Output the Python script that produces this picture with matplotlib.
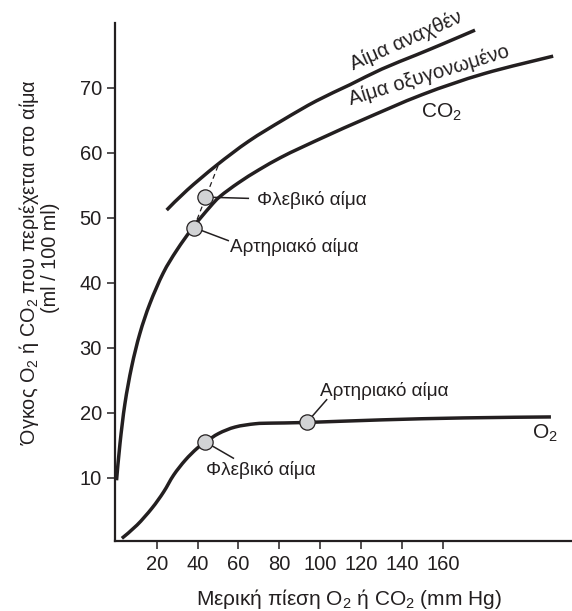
import matplotlib
matplotlib.use("Agg")
import matplotlib.pyplot as plt
from matplotlib.path import Path
from matplotlib.patches import PathPatch

plt.rcParams['font.family'] = ['Liberation Sans', 'DejaVu Sans']
plt.rcParams['mathtext.fontset'] = 'custom'
plt.rcParams['mathtext.rm'] = 'Liberation Sans'
plt.rcParams['mathtext.it'] = 'Liberation Sans'
plt.rcParams['mathtext.bf'] = 'Liberation Sans'

# ---- data ----
co2_oxy_x = [0.4, 2.1, 4.5, 7.8, 11.8, 16.7, 23.2, 29.8, 37.9, 46.1, 51, 60, 70, 80.7, 90.5, 105, 120, 150, 180, 213.8]
co2_oxy_y = [9.6, 15.3, 21.4, 27.1, 32.2, 36.8, 41.5, 45.0, 48.6, 51.7, 53.3, 55.4, 57.4, 59.3, 60.8, 62.9, 65.0, 69.0, 72.2, 74.9]

co2_red_x = [24.9, 35, 49.3, 65, 81.9, 98, 114.5, 130, 147, 160, 175.6]
co2_red_y = [51.2, 54.3, 58.1, 61.8, 65.1, 68.0, 70.5, 72.9, 75.1, 76.8, 78.9]

o2_x = [3.0, 10.4, 17.7, 23.4, 28.3, 34.0, 39.7, 44.0, 50.3, 58.4, 68.2, 76.4, 93.4, 130, 170, 212.7]
o2_y = [0.66, 2.7, 5.3, 7.8, 10.4, 12.7, 14.5, 15.5, 16.8, 17.8, 18.3, 18.4, 18.5, 18.9, 19.2, 19.35]

co2_arterial = (38.2, 48.5)
co2_venous = (43.5, 53.2)
co2_dash_end = (50.1, 58.1)
o2_venous = (43.8, 15.5)
o2_arterial = (93.4, 18.5)

x_ticks = [20, 40, 60, 80, 100, 120, 140, 160]
y_ticks = [10, 20, 30, 40, 50, 60, 70]

ylabel_line1 = "Όγκος O$_2$ ή CO$_2$ που περιέχεται στο αίμα"
ylabel_line2 = "(ml / 100 ml)"
xlabel = "Μερική πίεση O$_2$ ή CO$_2$ (mm Hg)"
venous_label = "Φλεβικό αίμα"
arterial_label = "Αρτηριακό αίμα"


def smooth_path(xs, ys):
    """Catmull-Rom curve through the read points, drawn as cubic Bezier segments."""
    pts = list(zip(xs, ys))
    n = len(pts)
    verts = [pts[0]]
    codes = [Path.MOVETO]
    for i in range(n - 1):
        p0 = pts[i - 1] if i > 0 else pts[i]
        p1 = pts[i]
        p2 = pts[i + 1]
        p3 = pts[i + 2] if i + 2 < n else pts[i + 1]
        c1 = (p1[0] + (p2[0] - p0[0]) / 6, p1[1] + (p2[1] - p0[1]) / 6)
        c2 = (p2[0] - (p3[0] - p1[0]) / 6, p2[1] - (p3[1] - p1[1]) / 6)
        verts += [c1, c2, p2]
        codes += [Path.CURVE4] * 3
    return Path(verts, codes)


# ---- figure ----
W, H = 572, 611
fig = plt.figure(figsize=(W / 100, H / 100), dpi=100)
ax = fig.add_axes([114.5 / W, 1 - 541 / H, 1 - 114.5 / W, (541 - 23) / H])
ax.set_xlim(-0.6, 223)
ax.set_ylim(0.25, 80)

ink = '#231f20'
lw = 2.5
for xs, ys in ((co2_oxy_x, co2_oxy_y), (co2_red_x, co2_red_y), (o2_x, o2_y)):
    ax.add_patch(PathPatch(smooth_path(xs, ys), fill=False, edgecolor=ink, lw=lw,
                           capstyle='butt', joinstyle='round', zorder=3))

# dashed line between arterial and venous CO2
ax.plot([co2_arterial[0], co2_dash_end[0]], [co2_arterial[1], co2_dash_end[1]],
        color=ink, lw=0.9, ls=(0, (4, 3)), zorder=2)

mk = dict(marker='o', ms=11, mfc='#d2d3d5', mec=ink, mew=0.9, ls='none', zorder=5)
for p in (co2_arterial, co2_venous, o2_venous, o2_arterial):
    ax.plot([p[0]], [p[1]], **mk)

fs = 13.6
# leader lines + labels
ax.plot([co2_venous[0], 64.8], [co2_venous[1], 53.0], color=ink, lw=1.1, zorder=4)
ax.text(68.9, 52.8, venous_label, fontsize=fs, ha='left', va='center', color=ink)

ax.plot([co2_arterial[0], 55.0], [co2_arterial[1], 46.5], color=ink, lw=1.1, zorder=4)
ax.text(55.9, 45.5, arterial_label, fontsize=fs, ha='left', va='center', color=ink)

ax.plot([o2_venous[0], 57.5], [o2_venous[1], 13.0], color=ink, lw=1.1, zorder=4)
ax.text(44.1, 11.2, venous_label, fontsize=fs, ha='left', va='center', color=ink)

ax.plot([o2_arterial[0], 103.1], [o2_arterial[1], 22.0], color=ink, lw=1.1, zorder=4)
ax.text(99.9, 23.3, arterial_label, fontsize=fs, ha='left', va='center', color=ink)

# curve labels
ax.text(209.9, 16.8, "O$_2$", fontsize=15, ha='center', va='center', color=ink)
ax.text(159.4, 66.3, "CO$_2$", fontsize=15, ha='center', va='center', color=ink)
ax.text(153.2, 72.0, "Αίμα οξυγονωμένο", fontsize=14.5, ha='center', va='center',
        rotation=17, rotation_mode='anchor', color=ink)
ax.text(141.8, 77.3, "Αίμα αναχθέν", fontsize=14.5, ha='center', va='center',
        rotation=24, rotation_mode='anchor', color=ink)

# axes styling
for s in ('top', 'right'):
    ax.spines[s].set_visible(False)
for s in ('left', 'bottom'):
    ax.spines[s].set_linewidth(1.6)
    ax.spines[s].set_color(ink)
ax.set_xticks(x_ticks)
ax.set_yticks(y_ticks)
ax.tick_params(axis='both', direction='out', length=6, width=1.1, color=ink,
               labelsize=14.5, labelcolor=ink)
ax.tick_params(axis='x', pad=4)
ax.tick_params(axis='y', pad=3)

fig.text(29 / W, 1 - 262 / H, ylabel_line1, rotation=90, ha='center', va='center',
         fontsize=14.3, color=ink)
fig.text(50 / W, 1 - 258 / H, ylabel_line2, rotation=90, ha='center', va='center',
         fontsize=14.3, color=ink)
fig.text(349 / W, 1 - 599 / H, xlabel, ha='center', va='center', fontsize=15, color=ink)

fig.savefig("out.png", dpi=100)
